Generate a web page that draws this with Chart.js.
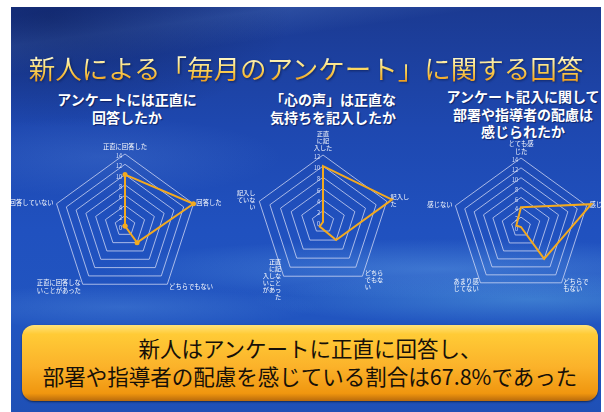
<!DOCTYPE html>
<html lang="ja">
<head>
<meta charset="utf-8">
<script src="https://cdn.jsdelivr.net/npm/chart.js@4.4.1/dist/chart.umd.min.js"></script>
<style>
  html, body { margin: 0; padding: 0; background: #fff; }
  body { width: 604px; height: 412px; position: relative; overflow: hidden;
         font-family: "Noto Sans CJK JP", "Noto Sans", sans-serif; }
  #slide { position: absolute; left: 11px; top: 7px; width: 590px; height: 405px; overflow: hidden;
    background:
      radial-gradient(ellipse 240px 110px at 40px 10px, rgba(12,28,85,0.55), rgba(12,28,85,0) 100%),
      radial-gradient(ellipse 340px 30px at 430px 262px, rgba(130,200,250,0.30), rgba(130,200,250,0) 100%),
      radial-gradient(ellipse 280px 26px at 520px 292px, rgba(120,210,245,0.32), rgba(120,210,245,0) 100%),
      radial-gradient(ellipse 200px 22px at 110px 300px, rgba(120,180,240,0.22), rgba(120,180,240,0) 100%),
      radial-gradient(ellipse 180px 40px at 90px 150px, rgba(120,170,240,0.16), rgba(120,170,240,0) 100%),
      linear-gradient(172deg, rgba(255,255,255,0) 2%, rgba(150,200,255,0.14) 8%, rgba(255,255,255,0) 14%),
      linear-gradient(180deg, #1b3a92 0%, #1e48b0 30%, #2051bf 55%, #2155c0 78%, #1f50b6 100%);
  }
  .title { position: absolute; left: 0; width: 590px; top: 44px; text-align: center;
    font-size: 26.5px; line-height: 34px; white-space: nowrap;
    background: linear-gradient(180deg, #fff8c8 20%, #fbd55a 55%, #ef9d1c 90%);
    -webkit-background-clip: text; background-clip: text; color: transparent;
    filter: drop-shadow(1px 1px 1px rgba(10,20,60,0.6)); }
  .sub { position: absolute; color: #fff; font-weight: bold; font-size: 14px; line-height: 18px;
    text-align: center; white-space: nowrap; transform: translateX(-50%);
    text-shadow: 1px 1px 1px rgba(0,0,40,0.5); }
  canvas { position: absolute; }
  #note { position: absolute; left: 11px; top: 318px; width: 576px; height: 76px; border-radius: 12px;
    background: linear-gradient(180deg, #ffe27a 0%, #ffcb36 12%, #fbb22a 55%, #f0960f 90%, #b86a0c 100%);
    box-shadow: 0 1px 2px rgba(0,0,0,0.5);
    color: #161008; text-align: center; font-size: 21.5px; line-height: 28px; padding-top: 9px; box-sizing: border-box; }
</style>
</head>
<body>
<div id="slide">
  <div class="title">新人による「毎月のアンケート」に関する回答</div>
  <div class="sub" style="left:116px; top:83px;">アンケートには正直に<br>回答したか</div>
  <div class="sub" style="left:322px; top:83px;">「心の声」は正直な<br>気持ちを記入したか</div>
  <div class="sub" style="left:512px; top:81px; line-height:17.5px;">アンケート記入に関して<br>部署や指導者の配慮は<br>感じられたか</div>
  <canvas id="c1"></canvas>
  <canvas id="c2"></canvas>
  <canvas id="c3"></canvas>
  <div id="note">新人はアンケートに正直に回答し、<br>部署や指導者の配慮を感じている割合は67.8%であった</div>
</div>
<script>
// Survey answers (number of respondents per choice), clockwise from the top
const honestLabels = ['正直に回答した', '回答した', 'どちらでもない', ['正直に回答しな', 'いことがあった'], '回答していない'];
const honestCounts = [10, 14, 4, 0, 0];

const voiceLabels = [['正直', 'に記', '入した'], ['記入し', 'た'], ['どちら', 'でもな', 'い'],
                     ['正直', 'に記', '入しな', 'いこと', 'があっ', 'た'], ['記入し', 'ていな', 'い']];
const voiceCounts = [10, 13, 4, 1, 0];

const careLabels = [['とても感', 'じた'], '感じた', ['どちらで', 'もない'], ['あまり感', 'じてない'], '感じない'];
const careCounts = [4, 15, 8, 0, 1];

const honestMax = 14, voiceMax = 12, careMax = 14;
const tickStep = 2;

const FONT = '"Noto Sans CJK JP", "Noto Sans", sans-serif';
const SLIDE_X = 11, SLIDE_Y = 7;

// Draws tick values beside the vertical axis and the category names at each corner
const radarText = {
  id: 'radarText',
  beforeDatasetsDraw(chart, args, o) {
    const s = chart.scales.r, ctx = chart.ctx;
    ctx.save();
    ctx.fillStyle = 'rgba(235,240,255,0.9)';
    ctx.font = o.tickSize + 'px ' + FONT;
    ctx.textAlign = 'right';
    ctx.textBaseline = 'middle';
    s.ticks.forEach(t => {
      ctx.fillText(t.label, s.xCenter - 3, s.yCenter - s.getDistanceFromCenterForValue(t.value) + 2);
    });
    ctx.fillStyle = '#ffffff';
    ctx.font = o.size + 'px ' + FONT;
    chart.data.labels.forEach((lab, i) => {
      const lines = [].concat(lab);
      const p = s.getPointPosition(i, s.drawingArea + o.gap);
      const a = s.getIndexAngle(i) - Math.PI / 2;
      const c = Math.cos(a), sn = Math.sin(a);
      ctx.textAlign = c > 0.2 ? 'left' : (c < -0.2 ? 'right' : 'center');
      const h = lines.length * o.lineHeight;
      const y0 = sn < -0.9 ? p.y - h : p.y - h / 2;
      lines.forEach((ln, k) => ctx.fillText(ln, p.x, y0 + o.lineHeight * (k + 0.5)));
    });
    ctx.restore();
  }
};

// box: canvas rectangle in page pixels; cx, cy, r: centre and radius of the outer ring
function radar(id, labels, counts, max, box, cx, cy, r, text, pointRadius) {
  const cv = document.getElementById(id);
  cv.width = box.w; cv.height = box.h;
  cv.style.left = (box.x - SLIDE_X) + 'px';
  cv.style.top = (box.y - SLIDE_Y) + 'px';
  cv.style.width = box.w + 'px'; cv.style.height = box.h + 'px';
  new Chart(cv, {
    type: 'radar',
    data: {
      labels: labels,
      datasets: [{
        data: counts,
        borderColor: '#f3aa1f',
        backgroundColor: '#f3aa1f',
        borderWidth: 2,
        fill: false,
        pointRadius: pointRadius,
        pointBorderWidth: 0,
        pointBackgroundColor: '#f3aa1f'
      }]
    },
    options: {
      responsive: false,
      animation: false,
      devicePixelRatio: 1,
      layout: { padding: {
        left: cx - r - box.x, top: cy - r - box.y,
        right: box.x + box.w - (cx + r), bottom: box.y + box.h - (cy + r) } },
      plugins: { legend: { display: false }, tooltip: { enabled: false }, radarText: text },
      scales: {
        r: {
          min: 0, max: max,
          ticks: { stepSize: tickStep, display: false },
          grid: { color: 'rgba(215,220,245,0.75)', lineWidth: 1 },
          angleLines: { display: false },
          pointLabels: { display: false }
        }
      }
    },
    plugins: [radarText]
  });
}

radar('c1', honestLabels, honestCounts, honestMax, { x: 11, y: 135, w: 220, h: 170 },
      125, 226, 72, { size: 6.3, lineHeight: 8, gap: 3, tickSize: 5.5 }, 2.5);
radar('c2', voiceLabels, voiceCounts, voiceMax, { x: 215, y: 120, w: 205, h: 190 },
      323, 222, 67, { size: 6.2, lineHeight: 7, gap: 4, tickSize: 5.5 }, 0);
radar('c3', careLabels, careCounts, careMax, { x: 415, y: 130, w: 190, h: 175 },
      521, 227, 69, { size: 6.3, lineHeight: 7.5, gap: 3, tickSize: 5.5 }, 0);
</script>
</body>
</html>
